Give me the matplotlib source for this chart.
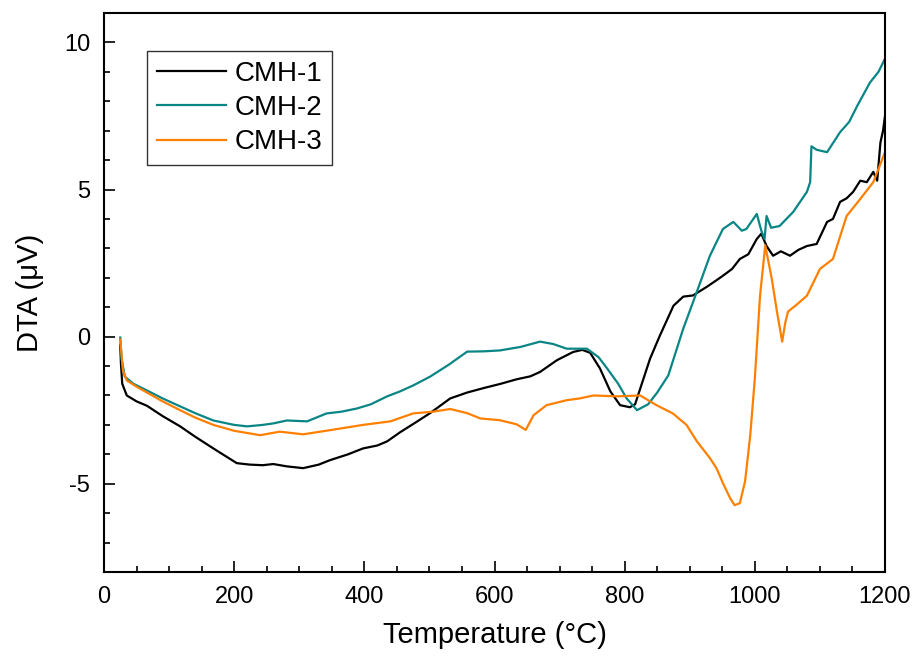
import matplotlib
matplotlib.use("Agg")
import matplotlib.pyplot as plt
from matplotlib.ticker import MultipleLocator

plt.rcParams['font.family'] = ['Liberation Sans', 'DejaVu Sans']
plt.rcParams['axes.unicode_minus'] = False

# CMH-1 (black)
t1 = [25, 26, 28, 35, 50, 66, 90, 117, 140, 168, 204, 224, 244, 260, 281, 306, 330, 347,
      375, 398, 420, 435, 455, 480, 501, 532, 558, 583, 610, 634, 655, 670, 696, 721, 735,
      747, 762, 778, 793, 808, 816, 824, 839, 854, 875, 890, 905, 926, 940, 951, 965, 977,
      990, 1003, 1010, 1018, 1028, 1040, 1054, 1067, 1080, 1095, 1111, 1120, 1131, 1141,
      1151, 1162, 1172, 1182, 1188, 1193, 1197, 1200]
v1 = [-0.3, -0.9, -1.6, -2.0, -2.2, -2.35, -2.7, -3.05, -3.4, -3.8, -4.3, -4.35, -4.37,
      -4.33, -4.41, -4.47, -4.35, -4.2, -4.0, -3.8, -3.7, -3.56, -3.25, -2.9, -2.6, -2.1,
      -1.9, -1.75, -1.6, -1.45, -1.35, -1.2, -0.8, -0.52, -0.45, -0.55, -1.08, -1.86, -2.33,
      -2.4, -2.3, -1.76, -0.75, 0.03, 1.05, 1.36, 1.4, 1.69, 1.9, 2.07, 2.3, 2.64, 2.8, 3.32,
      3.5, 3.08, 2.75, 2.9, 2.75, 2.95, 3.08, 3.15, 3.9, 4.0, 4.58, 4.7, 4.92, 5.3, 5.25,
      5.6, 5.3, 6.6, 7.0, 7.5]

# CMH-2 (teal)
t2 = [25, 27, 32, 45, 66, 90, 117, 140, 168, 200, 220, 244, 260, 281, 312, 342, 365, 389,
      410, 435, 455, 475, 501, 530, 558, 583, 608, 640, 670, 690, 711, 742, 760, 773, 790,
      803, 819, 836, 850, 867, 890, 911, 931, 951, 967, 980, 987, 1003, 1010, 1015, 1018,
      1025, 1038, 1059, 1080, 1085, 1087, 1095, 1111, 1131, 1145, 1157, 1177, 1190, 1200]
v2 = [-0.03, -0.75, -1.36, -1.6, -1.83, -2.1, -2.37, -2.6, -2.85, -3.0, -3.05, -3.0, -2.95,
      -2.85, -2.88, -2.61, -2.55, -2.44, -2.3, -2.03, -1.86, -1.66, -1.36, -0.95, -0.51,
      -0.5, -0.47, -0.35, -0.17, -0.25, -0.41, -0.41, -0.7, -1.08, -1.6, -2.1, -2.5, -2.3,
      -1.9, -1.32, 0.27, 1.53, 2.75, 3.66, 3.9, 3.6, 3.66, 4.17, 3.6, 3.32, 4.1, 3.7, 3.76,
      4.24, 4.92, 5.25, 6.47, 6.35, 6.27, 6.95, 7.3, 7.83, 8.64, 9.0, 9.45]

# CMH-3 (orange)
t3 = [25, 29, 35, 50, 66, 90, 117, 140, 168, 200, 240, 270, 306, 347, 398, 440, 475, 506,
      532, 558, 578, 608, 634, 648, 660, 680, 711, 731, 752, 788, 824, 836, 849, 874, 895,
      911, 931, 941, 951, 962, 969, 977, 985, 993, 1000, 1008, 1016, 1026, 1034, 1042,
      1047, 1051, 1065, 1080, 1100, 1120, 1141, 1162, 1182, 1200]
v3 = [-0.1, -1.15, -1.49, -1.7, -1.9, -2.2, -2.5, -2.75, -3.0, -3.2, -3.35, -3.23, -3.32,
      -3.18, -3.0, -2.88, -2.61, -2.55, -2.46, -2.6, -2.78, -2.84, -2.98, -3.17, -2.67,
      -2.33, -2.16, -2.1, -2.0, -2.03, -2.0, -2.16, -2.33, -2.61, -3.0, -3.56, -4.13, -4.47,
      -4.98, -5.49, -5.73, -5.66, -4.92, -3.34, -1.42, 1.39, 3.1, 1.97, 0.85, -0.17, 0.5,
      0.85, 1.1, 1.39, 2.3, 2.64, 4.1, 4.68, 5.25, 6.27]

labels = ["CMH-1", "CMH-2", "CMH-3"]
colors = ["#000000", "#0a8585", "#ff8000"]

fig = plt.figure(figsize=(9.15, 6.56), dpi=100)
ax = fig.add_axes([104 / 915, (656 - 572) / 656, (885 - 104) / 915, (572 - 13) / 656])

for t, v, lab, c in zip([t1, t2, t3], [v1, v2, v3], labels, colors):
    ax.plot(t, v, color=c, lw=1.6, label=lab)

ax.set_xlim(0, 1200)
ax.set_ylim(-8, 11)
ax.xaxis.set_major_locator(MultipleLocator(200))
ax.xaxis.set_minor_locator(MultipleLocator(50))
ax.yaxis.set_major_locator(MultipleLocator(5))
ax.yaxis.set_minor_locator(MultipleLocator(1))
ax.tick_params(which='both', direction='in', top=False, right=False, width=1.2)
ax.tick_params(which='major', length=8, labelsize=17, pad=10)
ax.tick_params(which='minor', length=4.5)
for s in ax.spines.values():
    s.set_linewidth(1.5)

ax.set_xlabel("Temperature (°C)", fontsize=21)
ax.set_ylabel("DTA (μV)", fontsize=21)
ax.yaxis.set_label_coords(-0.077, 0.5)
ax.xaxis.set_label_coords(0.5, -0.088)

leg = ax.legend(loc='upper left', bbox_to_anchor=(0.055, 0.932), borderaxespad=0,
                fontsize=20, frameon=True, fancybox=False, edgecolor='black',
                handlelength=2.5, handletextpad=0.32, labelspacing=0.3, borderpad=0.35)
leg.get_frame().set_linewidth(1.0)

fig.savefig("out.png", dpi=100)
